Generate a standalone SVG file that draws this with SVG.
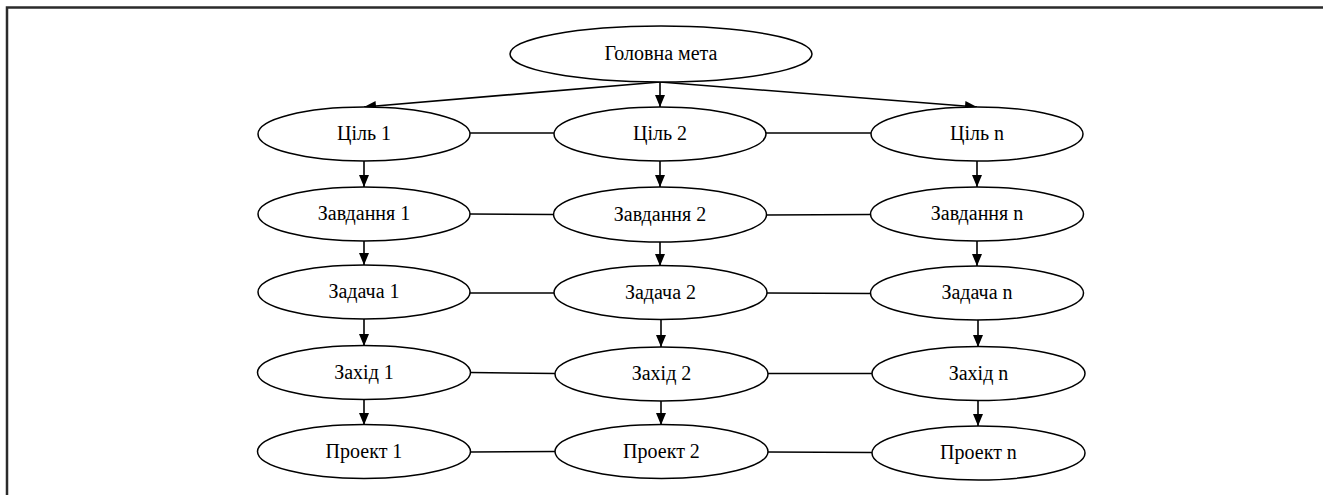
<svg xmlns="http://www.w3.org/2000/svg" width="1323" height="495" viewBox="0 0 1323 495">
<style>
.n ellipse{fill:#fff;stroke:#000;stroke-width:1.5}
.n text{font-family:"Liberation Serif","Times New Roman",serif;font-size:20px;fill:#000;text-anchor:middle}
.c line{stroke:#000;stroke-width:1.6;fill:none}
.c .a{marker-end:url(#ah)}
.frame{stroke:#2b2b2b;stroke-width:2.5;fill:none}
</style>
<defs>
<marker id="ah" viewBox="0 0 12 11" refX="12" refY="5.5" markerWidth="12" markerHeight="11" markerUnits="userSpaceOnUse" orient="auto">
<path d="M0,0.5 L12,5.5 L0,10.5 Z" fill="#000"/>
</marker>
</defs>
<rect width="1323" height="495" fill="#fff"/>
<path class="frame" d="M7,495 V7.5 H1323"/>
<g class="c">
<line class="a" x1="660" y1="82" x2="364" y2="107"/>
<line class="a" x1="660" y1="82" x2="660" y2="107"/>
<line class="a" x1="660" y1="82" x2="977" y2="107"/>
<line x1="470" y1="133" x2="554" y2="133"/>
<line x1="766" y1="133" x2="871" y2="133"/>
<line class="a" x1="364" y1="161" x2="364" y2="187"/>
<line class="a" x1="660" y1="161" x2="660" y2="187"/>
<line class="a" x1="977" y1="161" x2="977" y2="187"/>
<line x1="470" y1="214" x2="553" y2="214.5"/>
<line x1="766" y1="215" x2="870" y2="214.5"/>
<line class="a" x1="364" y1="241" x2="364" y2="265"/>
<line class="a" x1="660" y1="242" x2="660" y2="266"/>
<line class="a" x1="977" y1="241" x2="977" y2="266"/>
<line x1="470" y1="293" x2="554" y2="293"/>
<line x1="767" y1="293" x2="871" y2="293.5"/>
<line class="a" x1="364" y1="319" x2="364" y2="346"/>
<line class="a" x1="661" y1="319" x2="661" y2="347"/>
<line class="a" x1="978" y1="320" x2="978" y2="347"/>
<line x1="471" y1="372.5" x2="555" y2="373.5"/>
<line x1="768" y1="373.5" x2="872" y2="373.5"/>
<line class="a" x1="364" y1="399" x2="364" y2="425"/>
<line class="a" x1="661" y1="401" x2="661" y2="425"/>
<line class="a" x1="978" y1="400" x2="978" y2="426"/>
<line x1="471" y1="452" x2="555" y2="451.5"/>
<line x1="768" y1="452" x2="872" y2="452.5"/>
</g>
<g id="n-main" class="n"><ellipse cx="661" cy="54" rx="151" ry="28"/><text x="661" y="60">Головна мета</text></g>
<g id="n-goal1" class="n"><ellipse cx="364" cy="134" rx="106" ry="27"/><text x="364" y="140">Ціль 1</text></g>
<g id="n-goal2" class="n"><ellipse cx="660" cy="134" rx="106" ry="27"/><text x="660" y="140">Ціль 2</text></g>
<g id="n-goaln" class="n"><ellipse cx="977" cy="134" rx="106" ry="27"/><text x="977" y="140">Ціль n</text></g>
<g id="n-task1" class="n"><ellipse cx="364" cy="214" rx="106" ry="27"/><text x="364" y="220">Завдання 1</text></g>
<g id="n-task2" class="n"><ellipse cx="660" cy="214.5" rx="106.5" ry="27.5"/><text x="660" y="220.5">Завдання 2</text></g>
<g id="n-taskn" class="n"><ellipse cx="977" cy="214" rx="106.5" ry="27"/><text x="977" y="220">Завдання n</text></g>
<g id="n-prob1" class="n"><ellipse cx="364" cy="292" rx="106" ry="27"/><text x="364" y="298">Задача 1</text></g>
<g id="n-prob2" class="n"><ellipse cx="660.5" cy="292.5" rx="106.5" ry="27"/><text x="660.5" y="298.5">Задача 2</text></g>
<g id="n-probn" class="n"><ellipse cx="977" cy="293" rx="106.5" ry="27"/><text x="977" y="299">Задача n</text></g>
<g id="n-meas1" class="n"><ellipse cx="364" cy="372.5" rx="106.5" ry="27"/><text x="364" y="378.5">Захід 1</text></g>
<g id="n-meas2" class="n"><ellipse cx="661.5" cy="374" rx="106.5" ry="27"/><text x="661.5" y="380">Захід 2</text></g>
<g id="n-measn" class="n"><ellipse cx="978.5" cy="373.5" rx="106.5" ry="27"/><text x="978.5" y="379.5">Захід n</text></g>
<g id="n-proj1" class="n"><ellipse cx="364" cy="451.5" rx="106.5" ry="27"/><text x="364" y="457.5">Проект 1</text></g>
<g id="n-proj2" class="n"><ellipse cx="661.5" cy="451.5" rx="106.5" ry="27"/><text x="661.5" y="457.5">Проект 2</text></g>
<g id="n-projn" class="n"><ellipse cx="978.5" cy="453" rx="106.5" ry="27"/><text x="978.5" y="459">Проект n</text></g>
</svg>
